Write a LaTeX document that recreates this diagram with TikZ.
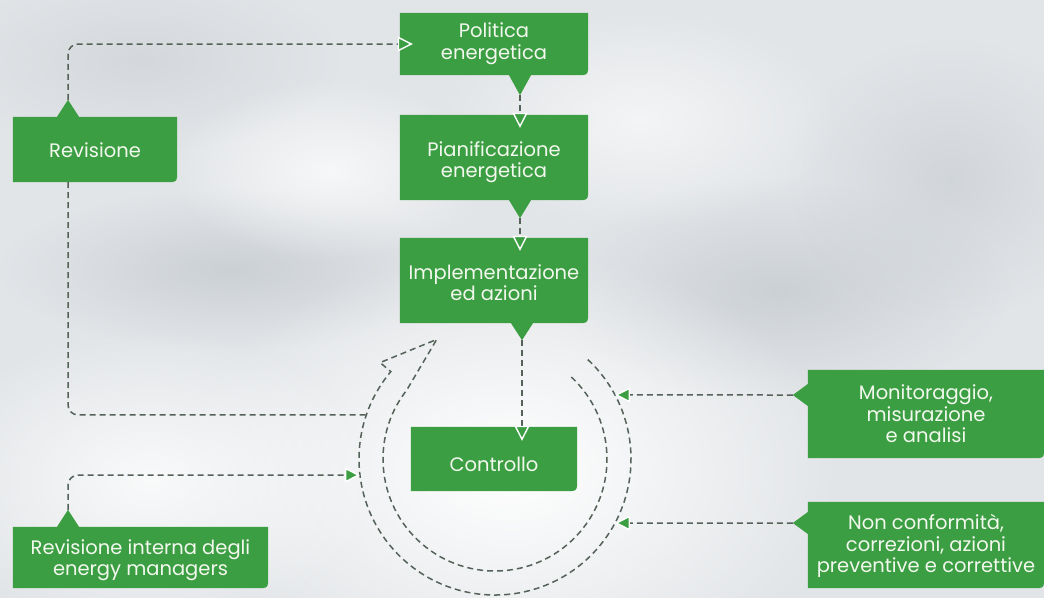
\documentclass[tikz,border=0pt]{standalone}
\usepackage{fontspec}
\setmainfont{Poppins}
\usetikzlibrary{arrows.meta,calc,fadings}
\definecolor{boxgreen}{RGB}{60,158,66}
\definecolor{dashc}{RGB}{84,98,88}
\definecolor{skyc}{RGB}{226,229,232}
\definecolor{skyd}{RGB}{198,203,208}
\definecolor{txtc}{RGB}{242,248,238}
\tikzfading[name=fuzzy, inner color=transparent!0, outer color=transparent!100]
\pgfdeclarelayer{bg}
\pgfdeclarelayer{boxes}
\pgfsetlayers{bg,boxes,main}
\newcommand{\lowtxt}[2]{\raisebox{-#1}[\height][\depth]{\begin{tabular}{@{}c@{}}#2\end{tabular}}}
\begin{document}
\begin{tikzpicture}[x=1pt,y=-1pt,
  box/.style={inner sep=0pt, align=center, text=txtc, font=\fontsize{19.5}{21.5}\selectfont},
  conn/.style={draw=dashc, line width=1.5pt, dash pattern=on 6pt off 4pt},
  arr/.style={-{Triangle[length=15pt,width=15pt,color=white,fill=boxgreen,line width=1.4pt]}},
  gbox/.style={fill=boxgreen},
  cloud/.style={fill=white, path fading=fuzzy},
  shadow/.style={fill=skyd, path fading=fuzzy}
]
\useasboundingbox (0,0) rectangle (1044,598);

% nodes
\node[box, minimum width=188pt, minimum height=62pt] (pol) at (494,44) {\lowtxt{0pt}{Politica\\energetica}};
\node[box, minimum width=188pt, minimum height=85pt] (pia) at (494,157.5) {\lowtxt{5pt}{Pianificazione\\energetica}};
\node[box, minimum width=188pt, minimum height=85pt] (imp) at (494,280.5) {\lowtxt{5pt}{Implementazione\\ed azioni}};
\node[box, minimum width=166pt, minimum height=64pt] (con) at (494,459) {\lowtxt{8pt}{Controllo}};
\node[box, minimum width=164pt, minimum height=65pt] (rev) at (95,149.5) {\lowtxt{4pt}{Revisione}};
\node[box, minimum width=255pt, minimum height=61pt] (rin) at (140.5,557.5) {\lowtxt{3pt}{Revisione interna degli\\energy managers}};
\node[box, minimum width=236pt, minimum height=88pt] (mon) at (926,414) {\lowtxt{3pt}{Monitoraggio,\\misurazione\\e analisi}};
\node[box, minimum width=236pt, minimum height=86pt] (nc) at (926,545) {\lowtxt{2pt}{Non conformità,\\correzioni, azioni\\preventive e correttive}};

% pointer tips
\coordinate (polP) at ($(pol.south)+(26,20)$);
\coordinate (piaP) at ($(pia.south)+(26,18)$);
\coordinate (impP) at ($(imp.south)+(28,17)$);
\coordinate (revP) at ($(rev.north)+(-27,-17)$);
\coordinate (rinP) at ($(rin.north)+(-72.5,-17)$);
\coordinate (monP) at ($(mon.west)+(-15,-19)$);
\coordinate (ncP) at ($(nc.west)+(-15,-22)$);

% circle centre and arc points
\coordinate (C) at (495,459);
\coordinate (arcL) at ($(C)+(198.9:136)$);
\coordinate (arcR) at ($(C)+(173.2:136)$);
\coordinate (arcM) at ($(C)+(331.9:136)$);
\coordinate (arcN) at ($(C)+(28.1:136)$);

% background
\begin{pgfonlayer}{bg}
\fill[skyc] (0,0) rectangle (1044,598);
\fill[shadow, opacity=0.8] (230,270) ellipse [x radius=230, y radius=80];
\fill[shadow, opacity=0.8] (780,290) ellipse [x radius=230, y radius=110];
\fill[shadow, opacity=0.6] (950,180) ellipse [x radius=160, y radius=140];
\fill[shadow, opacity=0.5] (140,60) ellipse [x radius=200, y radius=90];
\fill[cloud] (510,470) ellipse [x radius=330, y radius=220];
\fill[cloud, opacity=0.8] (150,480) ellipse [x radius=230, y radius=150];
\fill[cloud, opacity=0.6] (640,120) ellipse [x radius=200, y radius=110];
\fill[cloud, opacity=0.7] (330,170) ellipse [x radius=160, y radius=90];
\end{pgfonlayer}

% green boxes
\begin{pgfonlayer}{boxes}
\fill[gbox] (pol.north west) -- (pol.north east) -- ($(pol.south east)+(0,-12)$) .. controls (pol.south east) .. ($(pol.south east)+(-12,0)$)
  -- ($(polP|-pol.south)+(11,0)$) -- (polP) -- ($(polP|-pol.south)+(-11,0)$) -- (pol.south west) -- cycle;
\fill[gbox] (pia.north west) -- (pia.north east) -- ($(pia.south east)+(0,-12)$) .. controls (pia.south east) .. ($(pia.south east)+(-12,0)$)
  -- ($(piaP|-pia.south)+(11,0)$) -- (piaP) -- ($(piaP|-pia.south)+(-11,0)$) -- (pia.south west) -- cycle;
\fill[gbox] (imp.north west) -- (imp.north east) -- ($(imp.south east)+(0,-12)$) .. controls (imp.south east) .. ($(imp.south east)+(-12,0)$)
  -- ($(impP|-imp.south)+(11,0)$) -- (impP) -- ($(impP|-imp.south)+(-11,0)$) -- (imp.south west) -- cycle;
\fill[gbox] (con.north west) -- (con.north east) -- ($(con.south east)+(0,-12)$) .. controls (con.south east) .. ($(con.south east)+(-12,0)$)
  -- (con.south west) -- cycle;
\fill[gbox] (rev.north west) -- ($(revP|-rev.north)+(-11,0)$) -- (revP) -- ($(revP|-rev.north)+(11,0)$) -- (rev.north east)
  -- ($(rev.south east)+(0,-12)$) .. controls (rev.south east) .. ($(rev.south east)+(-12,0)$) -- (rev.south west) -- cycle;
\fill[gbox] (rin.north west) -- ($(rinP|-rin.north)+(-11,0)$) -- (rinP) -- ($(rinP|-rin.north)+(11,0)$) -- (rin.north east)
  -- ($(rin.south east)+(0,-12)$) .. controls (rin.south east) .. ($(rin.south east)+(-12,0)$) -- (rin.south west) -- cycle;
\fill[gbox] (mon.north west) -- (mon.north east) -- ($(mon.south east)+(0,-12)$) .. controls (mon.south east) .. ($(mon.south east)+(-12,0)$)
  -- (mon.south west) -- ($(monP-|mon.west)+(0,11)$) -- (monP) -- ($(monP-|mon.west)+(0,-11)$) -- cycle;
\fill[gbox] (nc.north west) -- (nc.north east) -- ($(nc.south east)+(0,-12)$) .. controls (nc.south east) .. ($(nc.south east)+(-12,0)$)
  -- (nc.south west) -- ($(ncP-|nc.west)+(0,11)$) -- (ncP) -- ($(ncP-|nc.west)+(0,-11)$) -- cycle;
\end{pgfonlayer}

% curved cycle arrow around Controllo
\draw[conn] ($(C)+(-47:136)$) arc[start angle=-47, end angle=220, radius=136]
  -- ($(C)+(220:150)$) -- ($(C)+(244:133)$) -- ($(C)+(218:112)$)
  arc[start angle=218, end angle=-47, radius=112];

% connectors
\draw[conn, arr] (polP) -- ($(pia.north)+(26,13)$);
\draw[conn, arr] (piaP) -- ($(imp.north)+(26,13)$);
\draw[conn, arr] (impP) -- ($(con.north)+(28,14)$);
\draw[conn, arr, rounded corners=10pt] (revP) -- (revP|-pol.west) -- ($(pol.west)+(13,0)$);
\draw[conn, rounded corners=10pt] (revP|-rev.south) -- (revP|-arcL) -- (arcL);
\draw[conn, arr, rounded corners=10pt] (rinP) -- (rinP|-arcR) -- (arcR);
\draw[conn, arr] (monP) -- (arcM);
\draw[conn, arr] (ncP) -- (arcN);
\end{tikzpicture}
\end{document}
